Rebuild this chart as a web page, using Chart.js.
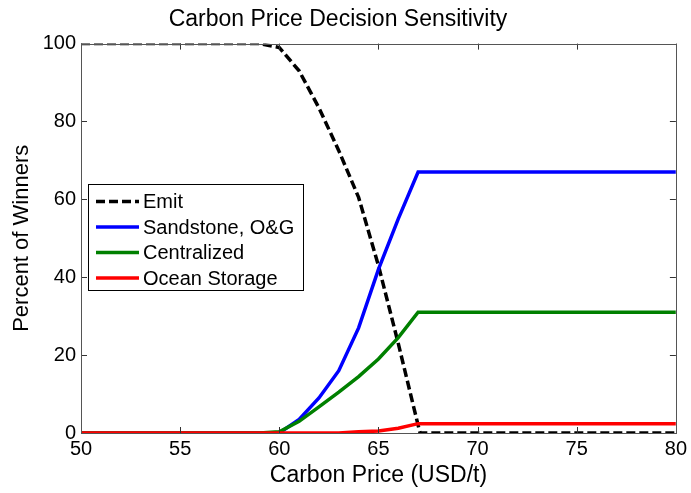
<!DOCTYPE html>
<html><head><meta charset="utf-8">
<script src="https://cdn.jsdelivr.net/npm/chart.js@4/dist/chart.umd.min.js"></script>
<style>html,body{margin:0;padding:0;background:#fff}canvas{display:block}</style>
</head><body>
<canvas id="c" width="691" height="493"></canvas>
<script>
const carbonPrice = [50, 55, 59, 60, 61, 62, 63, 64, 65, 66, 67, 67.1, 70, 75, 80];
const emit        = [100, 100, 100, 99, 93, 83.5, 72.5, 60.5, 43, 23, 2, 0, 0, 0, 0];
const sandstone   = [0, 0, 0, 0, 3.5, 9, 16, 27, 42, 55, 67, 67, 67, 67, 67];
const centralized = [0, 0, 0, 0.3, 3, 6.7, 10.5, 14.5, 19, 24.5, 31, 31, 31, 31, 31];
const ocean       = [0, 0, 0, 0, 0, 0, 0, 0.3, 0.5, 1.2, 2.4, 2.4, 2.4, 2.4, 2.4];
const seriesNames = ['Emit', 'Sandstone, O&G', 'Centralized', 'Ocean Storage'];
const xTicks = [50, 55, 60, 65, 70, 75, 80];
const yTicks = [0, 20, 40, 60, 80, 100];

const FONT = "'Liberation Sans', Arial, Helvetica, sans-serif";
const pts = arr => arr.map((v, i) => ({x: carbonPrice[i], y: v}));

const frame = {
  id: 'frame',
  afterDatasetsDraw(chart) {
    const {ctx, chartArea: a, scales: {x, y}} = chart;
    ctx.save();
    ctx.strokeStyle = '#333';
    ctx.lineWidth = 1;
    ctx.beginPath();
    x.ticks.forEach(t => {
      const p = Math.round(x.getPixelForValue(t.value)) + 0.5;
      ctx.moveTo(p, a.bottom); ctx.lineTo(p, a.bottom - 6);
      ctx.moveTo(p, a.top); ctx.lineTo(p, a.top + 6);
    });
    y.ticks.forEach(t => {
      const p = Math.round(y.getPixelForValue(t.value)) + 0.5;
      ctx.moveTo(a.left, p); ctx.lineTo(a.left + 6, p);
      ctx.moveTo(a.right, p); ctx.lineTo(a.right - 6, p);
    });
    ctx.stroke();
    ctx.strokeStyle = '#555';
    ctx.strokeRect(Math.round(a.left) + 0.5, Math.round(a.top) + 0.5,
                   Math.round(a.right - a.left), Math.round(a.bottom - a.top));
    // legend
    const lx = 88, ly = 184, lw = 215, lh = 106;
    ctx.fillStyle = '#fff';
    ctx.fillRect(lx, ly, lw, lh);
    ctx.strokeStyle = '#000';
    ctx.strokeRect(lx + 0.5, ly + 0.5, lw, lh);
    ctx.font = '20px ' + FONT;
    ctx.textBaseline = 'middle';
    ctx.textAlign = 'left';
    chart.data.datasets.forEach((ds, i) => {
      const cy = 201.5 + i * 25.5;
      ctx.beginPath();
      ctx.strokeStyle = ds.borderColor;
      ctx.lineWidth = ds.borderWidth;
      ctx.setLineDash(ds.borderDash || []);
      ctx.moveTo(96, cy); ctx.lineTo(139, cy);
      ctx.stroke();
      ctx.setLineDash([]);
      ctx.fillStyle = '#000';
      ctx.fillText(ds.label, 143, cy + 1);
    });
    ctx.restore();
  }
};

new Chart(document.getElementById('c'), {
  type: 'line',
  data: {
    datasets: [
      {label: seriesNames[0], data: pts(emit), borderColor: '#000000', borderWidth: 3.5, borderDash: [9, 4], order: 4},
      {label: seriesNames[1], data: pts(sandstone), borderColor: '#0000ff', borderWidth: 3.5, order: 3},
      {label: seriesNames[2], data: pts(centralized), borderColor: '#008000', borderWidth: 3.5, order: 2},
      {label: seriesNames[3], data: pts(ocean), borderColor: '#ff0000', borderWidth: 3.5, order: 1}
    ]
  },
  options: {
    responsive: false,
    animation: false,
    devicePixelRatio: 1,
    elements: {point: {radius: 0}, line: {tension: 0, fill: false}},
    layout: {padding: {left: 0, right: 15, top: 0, bottom: 0}},
    plugins: {
      legend: {display: false},
      tooltip: {enabled: false},
      title: {
        display: true,
        text: 'Carbon Price Decision Sensitivity',
        color: '#000',
        font: {family: FONT, size: 23, weight: 'normal'},
        padding: {top: 6, bottom: 10}
      }
    },
    scales: {
      x: {
        type: 'linear', min: 50, max: 80,
        afterBuildTicks: s => { s.ticks = xTicks.map(v => ({value: v})); },
        afterFit: s => { s.height = 60; },
        grid: {display: false, drawTicks: false},
        border: {display: false},
        ticks: {color: '#000', font: {family: FONT, size: 20}, padding: 4, maxRotation: 0},
        title: {display: true, text: 'Carbon Price (USD/t)', color: '#000',
                font: {family: FONT, size: 23}, padding: {top: 0, bottom: 4}}
      },
      y: {
        type: 'linear', min: 0, max: 100,
        afterBuildTicks: s => { s.ticks = yTicks.map(v => ({value: v})); },
        afterFit: s => { s.width = 81; },
        grid: {display: false, drawTicks: false},
        border: {display: false},
        ticks: {color: '#000', font: {family: FONT, size: 20}, padding: 5},
        title: {display: true, text: 'Percent of Winners', color: '#000',
                font: {family: FONT, size: 22}, padding: {top: 9, bottom: 0}}
      }
    }
  },
  plugins: [frame]
});
</script>
</body></html>
